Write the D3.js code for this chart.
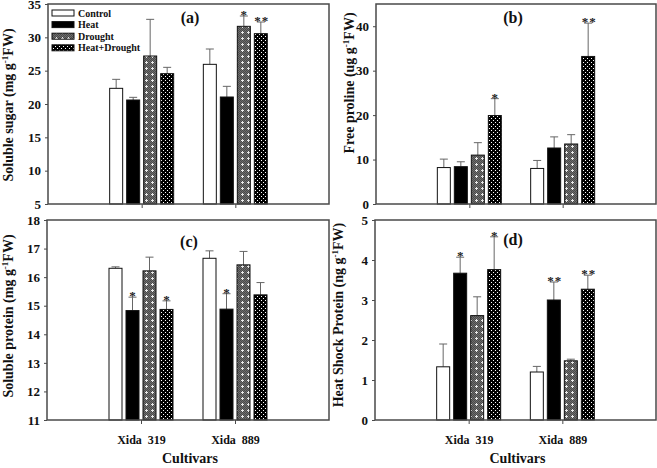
<!DOCTYPE html>
<html><head><meta charset="utf-8">
<script src="https://cdn.jsdelivr.net/npm/d3@7"></script>
<style>
body{margin:0;background:#fff;}
svg{display:block;}
text{font-family:"Liberation Serif","Times New Roman",serif;font-weight:bold;}
</style></head>
<body>
<svg id="chart" width="657" height="468"></svg>
<script>
// ---- data ----
const cultivars = ["Xida  319", "Xida  889"];
const treatments = ["Control", "Heat", "Drought", "Heat+Drought"];

const sugarMean = [[22.35, 20.6, 27.2, 24.55], [25.95, 21.05, 31.65, 30.55]];
const sugarErr  = [[1.35, 0.4, 5.5, 0.95], [2.3, 1.6, 1.55, 1.75]];
const sugarSig  = [["", "", "", ""], ["", "", "*", "**"]];

const prolineMean = [[8.2, 8.4, 11.0, 19.9], [8.0, 12.6, 13.5, 33.2]];
const prolineErr  = [[1.9, 1.1, 2.8, 3.8], [1.8, 2.5, 2.1, 7.5]];
const prolineSig  = [["", "", "", "*"], ["", "", "", "**"]];

const proteinMean = [[16.31, 14.83, 16.22, 14.87], [16.66, 14.88, 16.43, 15.38]];
const proteinErr  = [[0.05, 0.47, 0.48, 0.3], [0.26, 0.54, 0.47, 0.43]];
const proteinSig  = [["", "*", "", "*"], ["", "*", "", ""]];

const hspMean = [[1.33, 3.67, 2.61, 3.76], [1.2, 3.0, 1.48, 3.27]];
const hspErr  = [[0.57, 0.4, 0.47, 0.82], [0.14, 0.45, 0.04, 0.35]];
const hspSig  = [["", "*", "", "*"], ["", "**", "", "**"]];

const sugarTicks = [5, 10, 15, 20, 25, 30, 35];
const prolineTicks = [0, 10, 20, 30, 40];
const proteinTicks = [11, 12, 13, 14, 15, 16, 17, 18];
const hspTicks = [0, 1, 2, 3, 4, 5];

const svg = d3.select("#chart");
const defs = svg.append("defs");

// Drought pattern: grey checker with white crosses
const pd = defs.append("pattern").attr("id", "pDrought").attr("patternUnits", "userSpaceOnUse")
  .attr("width", 6).attr("height", 6);
pd.append("rect").attr("width", 6).attr("height", 6).attr("fill", "#6e6e6e");
[[0,0],[2,0],[4,0],[1,1],[3,1],[5,1],[0,2],[2,2],[4,2],[1,3],[3,3],[5,3],[0,4],[2,4],[4,4],[1,5],[3,5],[5,5]].forEach(([x,y]) =>
  pd.append("rect").attr("x", x).attr("y", y).attr("width", 1).attr("height", 1).attr("fill", "#4a4a4a"));
pd.append("rect").attr("x", 2).attr("y", 1).attr("width", 1).attr("height", 3).attr("fill", "#e8e8e8");
pd.append("rect").attr("x", 1).attr("y", 2).attr("width", 3).attr("height", 1).attr("fill", "#e8e8e8");

// Heat+Drought pattern: black with white dots
const ph = defs.append("pattern").attr("id", "pHD").attr("patternUnits", "userSpaceOnUse")
  .attr("width", 4).attr("height", 4);
ph.append("rect").attr("width", 4).attr("height", 4).attr("fill", "#000");
ph.append("rect").attr("x", 1).attr("y", 0).attr("width", 1).attr("height", 1).attr("fill", "#fff");
ph.append("rect").attr("x", 3).attr("y", 2).attr("width", 1).attr("height", 1).attr("fill", "#fff");

const fills = ["#fff", "#000", "url(#pDrought)", "url(#pHD)"];
const frameColor = "#4a4a4a";

function panel(opt) {
  const {x0, x1, y0, y1, domain, ticks, means, errs, sigs, label, labelX, labelY,
         title, titleX, titleY, showX} = opt;
  const g = svg.append("g");
  const x = d3.scaleLinear().domain([0, 3]).range([x0, x1]);
  const y = d3.scaleLinear().domain(domain).range([y1, y0]);
  const bw = 14, step = 17;

  // bars
  means.forEach((row, ci) => {
    row.forEach((v, ti) => {
      const cx = x(ci + 1);
      const bx = cx - 32.5 + ti * step;
      const top = y(v);
      const errTop = y(v + errs[ci][ti]);
      g.append("line").attr("x1", bx + bw / 2).attr("x2", bx + bw / 2)
        .attr("y1", top).attr("y2", errTop).attr("stroke", "#666").attr("stroke-width", 1);
      g.append("line").attr("x1", bx + bw / 2 - 4).attr("x2", bx + bw / 2 + 4)
        .attr("y1", errTop).attr("y2", errTop).attr("stroke", "#666").attr("stroke-width", 1);
      g.append("rect").attr("x", bx + 0.5).attr("y", top).attr("width", bw - 1).attr("height", y1 - top)
        .attr("fill", fills[ti]).attr("stroke", "#111").attr("stroke-width", 1);
      const s = sigs[ci][ti];
      if (s) {
        g.append("text")
          .attr("transform", `translate(${bx + bw / 2 + (s.length > 1 ? 1 : 0)},${errTop + 3}) rotate(0.01)`)
          .attr("text-anchor", "middle")
          .attr("font-family", "DejaVu Serif").attr("font-size", 13).attr("font-weight", "normal")
          .attr("fill", "#222").attr("letter-spacing", s.length > 1 ? 1 : 0).text(s);
      }
    });
  });

  // frame
  g.append("rect").attr("x", x0).attr("y", y0).attr("width", x1 - x0).attr("height", y1 - y0)
    .attr("fill", "none").attr("stroke", frameColor).attr("stroke-width", 1.5);

  // y axis
  const ya = d3.axisLeft(y).tickValues(ticks).tickSize(3).tickPadding(4).tickFormat(d3.format("d"));
  const yg = g.append("g").attr("transform", `translate(${x0},0)`).call(ya);
  yg.select(".domain").remove();
  yg.selectAll("line").attr("stroke", frameColor);
  yg.selectAll("text").attr("font-family", "Liberation Serif").attr("font-weight", "bold")
    .attr("font-size", 13).attr("fill", "#111");

  // x axis ticks
  const xa = d3.axisBottom(x).tickValues([1, 2]).tickSize(4).tickFormat(i => showX ? cultivars[i - 1] : "").tickPadding(11);
  const xg = g.append("g").attr("transform", `translate(0,${y1})`).call(xa);
  xg.select(".domain").remove();
  xg.selectAll("line").attr("stroke", frameColor);
  xg.selectAll("text").attr("font-family", "Liberation Serif").attr("font-weight", "bold")
    .attr("font-size", 12).attr("fill", "#111").style("white-space", "pre");

  // y title
  const t = g.append("text").attr("transform", `translate(${labelX},${labelY}) rotate(-90)`)
    .attr("text-anchor", "middle").attr("font-size", 14).attr("fill", "#111");
  t.append("tspan").text(label[0]);
  t.append("tspan").attr("dy", -5).attr("font-size", 9).text("-1");
  t.append("tspan").attr("dy", 5).text(label[1]);

  // panel title
  g.append("text").attr("x", titleX).attr("y", titleY).attr("text-anchor", "middle")
    .attr("font-size", 16).attr("fill", "#111").text(title);

  if (showX) {
    g.append("text").attr("x", (x0 + x1) / 2 + 2).attr("y", 463).attr("text-anchor", "middle")
      .attr("font-size", 14).attr("fill", "#111").text("Cultivars");
  }
  return {x, y};
}

panel({x0: 48, x1: 329, y0: 4, y1: 204, domain: [5, 35], ticks: sugarTicks,
  means: sugarMean, errs: sugarErr, sigs: sugarSig,
  label: ["Soluble sugar (mg g", "FW)"], labelX: 13, labelY: 105,
  title: "(a)", titleX: 190, titleY: 23, showX: false});

panel({x0: 376, x1: 656, y0: 4, y1: 204, domain: [0, 45], ticks: prolineTicks,
  means: prolineMean, errs: prolineErr, sigs: prolineSig,
  label: ["Free proline (ug g", "FW)"], labelX: 354, labelY: 83,
  title: "(b)", titleX: 513, titleY: 23, showX: false});

panel({x0: 47, x1: 329, y0: 220, y1: 420, domain: [11, 18], ticks: proteinTicks,
  means: proteinMean, errs: proteinErr, sigs: proteinSig,
  label: ["Soluble protein (mg g", "FW)"], labelX: 13, labelY: 316,
  title: "(c)", titleX: 189, titleY: 247, showX: true});

panel({x0: 375, x1: 656, y0: 220, y1: 420, domain: [0, 5], ticks: hspTicks,
  means: hspMean, errs: hspErr, sigs: hspSig,
  label: ["Heat Shock Protein (ng g", "FW)"], labelX: 343, labelY: 315,
  title: "(d)", titleX: 513, titleY: 245, showX: true});

// legend in panel (a)
const lg = svg.append("g");
treatments.forEach((name, i) => {
  const yy = 13 + i * 11.6;
  lg.append("rect").attr("x", 52).attr("y", yy - 3).attr("width", 22).attr("height", 6)
    .attr("fill", fills[i]).attr("stroke", "#111").attr("stroke-width", 1);
  lg.append("text").attr("x", 78).attr("y", yy + 3.5).attr("font-size", 10).attr("fill", "#111").text(name);
});
</script>
</body></html>
